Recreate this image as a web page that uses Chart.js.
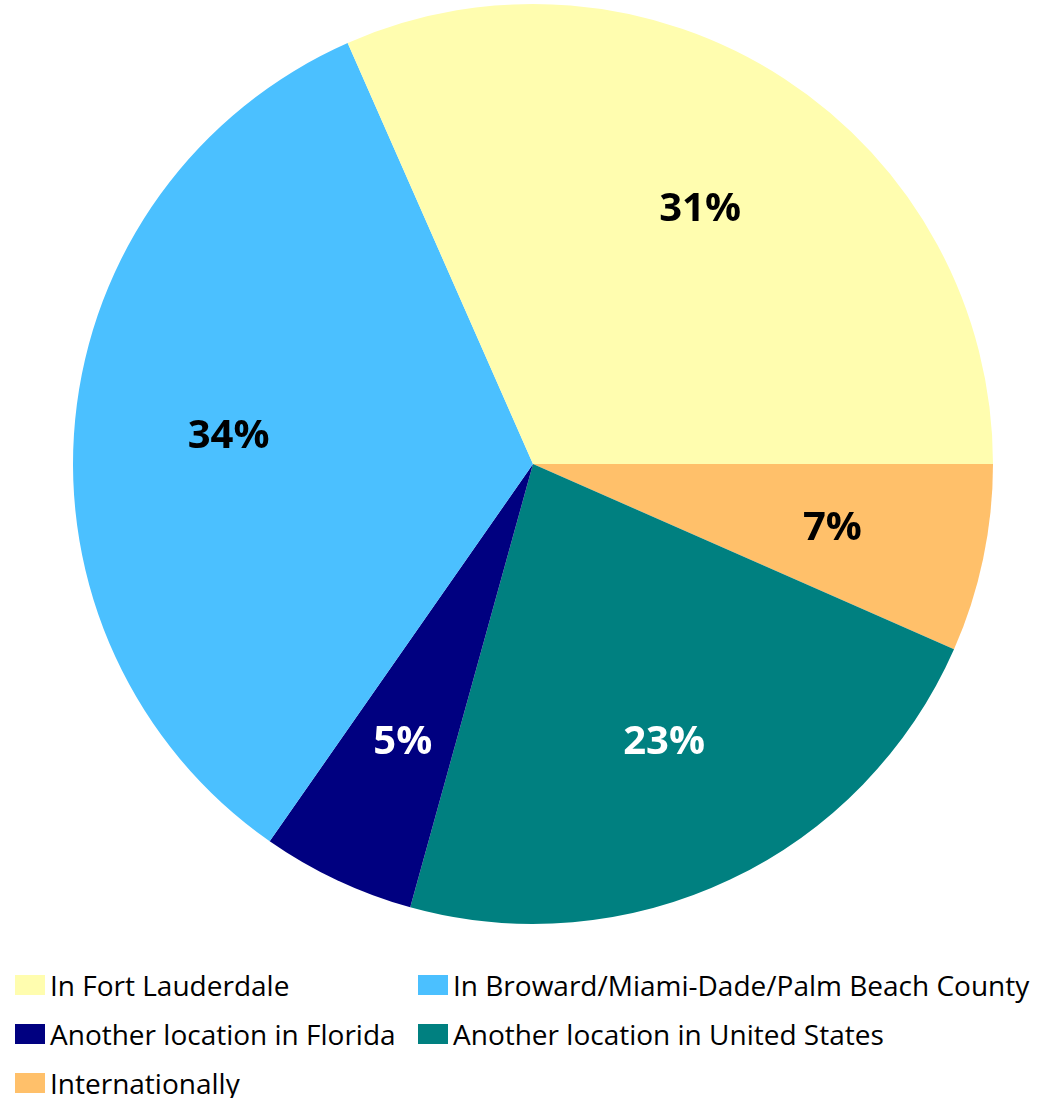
<!DOCTYPE html>
<html>
<head>
<meta charset="utf-8">
<script src="https://cdn.jsdelivr.net/npm/chart.js@4/dist/chart.umd.min.js"></script>
<style>
	body { margin: 0; background: #fff; font-family: "Open Sans", sans-serif; }
	#wrap { position: absolute; left: 0; top: 0; width: 1038px; height: 928px; }
	#legend { position: absolute; left: 15px; top: 960px; display: grid; grid-template-columns: 403px auto; grid-auto-rows: 49px; }
	.item { display: flex; align-items: center; font-size: 28px; color: #000; white-space: nowrap; }
	.swatch { width: 30px; height: 20px; margin-right: 5px; flex: none; }
</style>
</head>
<body>
<div id="wrap"><canvas id="pieChart"></canvas></div>
<div id="legend"></div>
<script>
"use strict";

// Data, in legend order
var categories = [
	"In Fort Lauderdale",
	"In Broward/Miami-Dade/Palm Beach County",
	"Another location in Florida",
	"Another location in United States",
	"Internationally",
];
var shares = [31.6, 33.7, 5.4, 22.7, 6.6];
var percentLabels = ["31%", "34%", "5%", "23%", "7%"];

var sliceColors = ["#FFFDAF", "#4BC0FF", "#000080", "#008080", "#FFC06A"];
var labelColors = ["#000", "#000", "#fff", "#fff", "#000"];

// Slices run anticlockwise from 3 o'clock in the original, so feed them reversed
var chartLabels = categories.slice().reverse();
var chartShares = shares.slice().reverse();
var chartColors = sliceColors.slice().reverse();
var chartPercents = percentLabels.slice().reverse();
var chartLabelColors = labelColors.slice().reverse();

// Percentage labels inside each slice
var sliceLabels = {
	id: "sliceLabels",
	afterDatasetsDraw: function (chart) {
		var ctx = chart.ctx;
		var meta = chart.getDatasetMeta(0);
		ctx.save();
		ctx.font = "bold 40px 'Open Sans', sans-serif";
		ctx.textAlign = "center";
		ctx.textBaseline = "middle";
		meta.data.forEach(function (arc, i) {
			var p = arc.getProps(["x", "y", "startAngle", "endAngle", "outerRadius"], true);
			var mid = (p.startAngle + p.endAngle) / 2;
			var r = p.outerRadius * 0.665;
			ctx.fillStyle = chartLabelColors[i];
			ctx.fillText(chartPercents[i], p.x + Math.cos(mid) * r, p.y + Math.sin(mid) * r + 2);
		});
		ctx.restore();
	},
};

// Initialize Pie Chart
function initPieChart() {
	var pieChart = document.getElementById("pieChart");
	new Chart(pieChart, {
		type: "pie",
		data: {
			labels: chartLabels,
			datasets: [
				{
					data: chartShares,
					backgroundColor: chartColors,
					borderWidth: 0,
				},
			],
		},
		options: {
			responsive: true,
			maintainAspectRatio: false,
			animation: false,
			rotation: 90,
			radius: 460,
			layout: {
				padding: { left: 28 },
			},
			plugins: {
				legend: { display: false },
				tooltip: { enabled: false },
			},
		},
		plugins: [sliceLabels],
	});
}

// Legend laid out as a two-column grid
function initLegend() {
	var legend = document.getElementById("legend");
	categories.forEach(function (name, i) {
		var item = document.createElement("div");
		item.className = "item";
		var sw = document.createElement("span");
		sw.className = "swatch";
		sw.style.background = sliceColors[i];
		item.appendChild(sw);
		item.appendChild(document.createTextNode(name));
		legend.appendChild(item);
	});
}

(function () {
	initPieChart();
	initLegend();
})();
</script>
</body>
</html>
